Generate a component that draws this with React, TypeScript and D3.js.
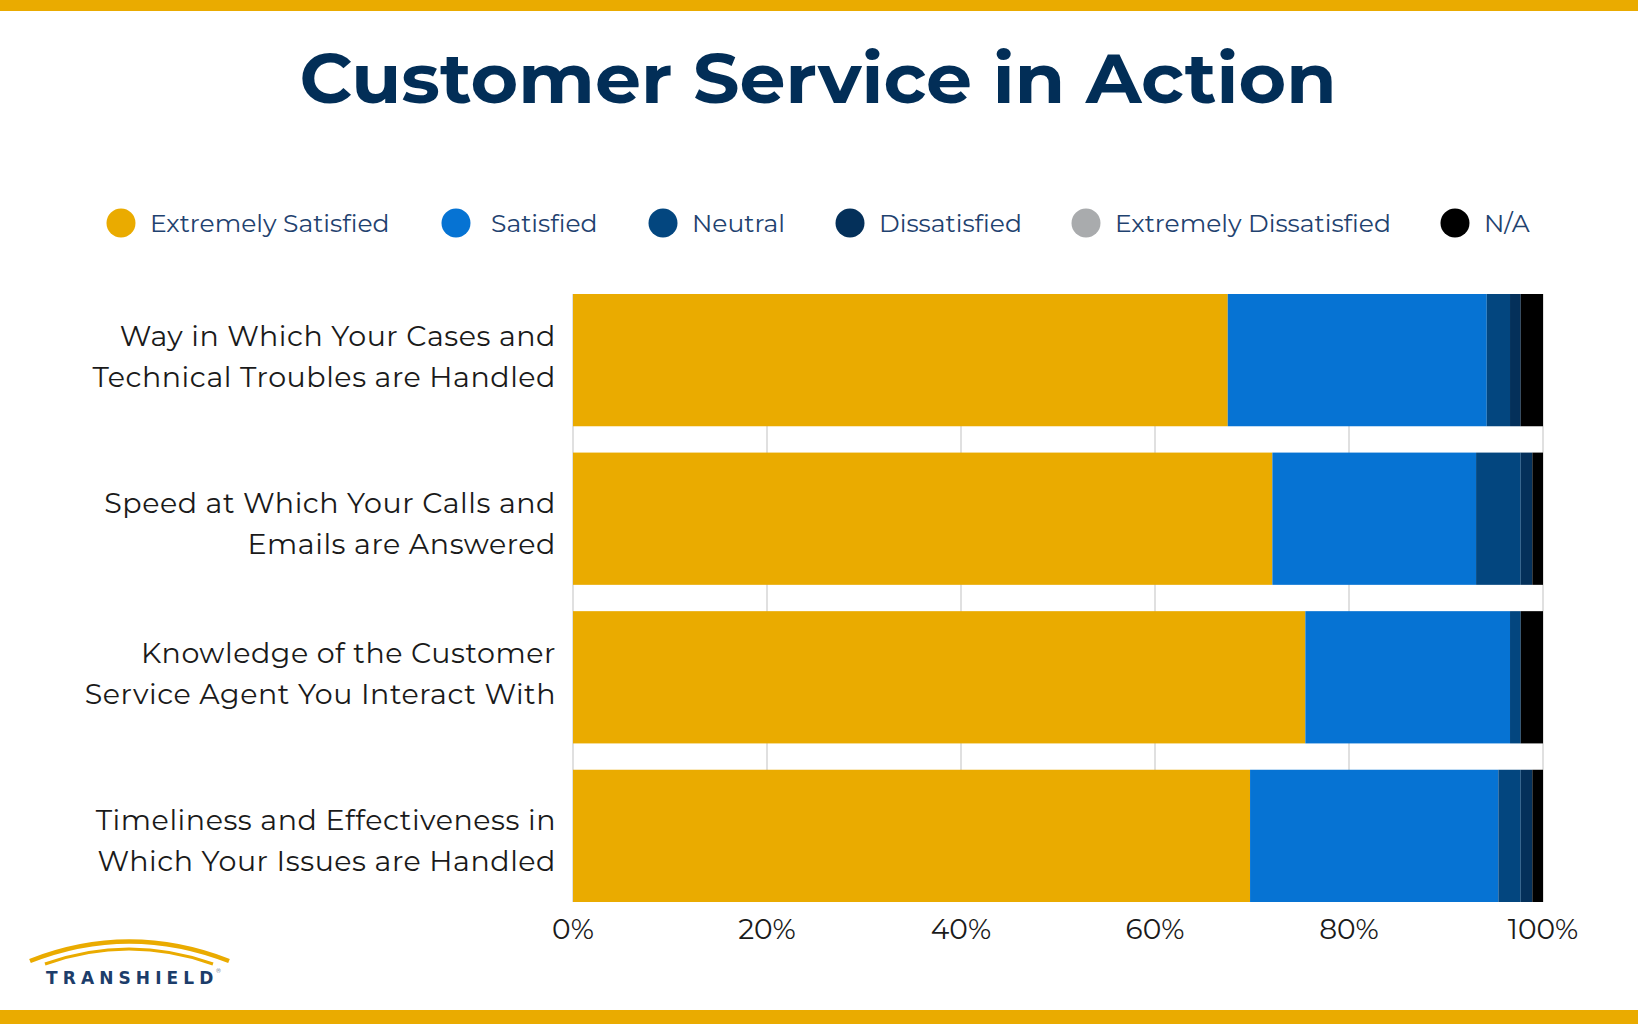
import { scaleLinear, scaleBand, stack } from "d3"

const categories = [
  ["Way in Which Your Cases and", "Technical Troubles are Handled"],
  ["Speed at Which Your Calls and", "Emails are Answered"],
  ["Knowledge of the Customer", "Service Agent You Interact With"],
  ["Timeliness and Effectiveness in", "Which Your Issues are Handled"],
]
const seriesNames = [
  "Extremely Satisfied",
  "Satisfied",
  "Neutral",
  "Dissatisfied",
  "Extremely Dissatisfied",
  "N/A",
]
const extremelySatisfied = [67.5, 72.1, 75.5, 69.8]
const satisfied = [26.7, 21.0, 21.1, 25.6]
const neutral = [2.4, 4.6, 1.1, 2.3]
const dissatisfied = [1.1, 1.2, 0, 1.2]
const extremelyDissatisfied = [0, 0, 0, 0]
const notApplicable = [2.3, 1.1, 2.3, 1.1]
const ticks = [0, 20, 40, 60, 80, 100]

const colors = ["#eaab00", "#0673d3", "#03467f", "#04305a", "#a9abad", "#000000"]
const legendX = [121, 456, 663, 850, 1086, 1455]
const legendTextX = [150, 491, 692, 879, 1115, 1484]
// small per-row vertical nudge of the label block, as in the original
const labelShift = [0, 8, 0, 8]

export default function App() {
  const W = 1638
  const H = 1024
  const gold = "#eaab00"
  const font = "Montserrat, 'Open Sans', sans-serif"

  const rows = categories.map((c, i) => ({
    key: i,
    "Extremely Satisfied": extremelySatisfied[i],
    Satisfied: satisfied[i],
    Neutral: neutral[i],
    Dissatisfied: dissatisfied[i],
    "Extremely Dissatisfied": extremelyDissatisfied[i],
    "N/A": notApplicable[i],
  }))
  const layers = stack<any>().keys(seriesNames)(rows)

  const x = scaleLinear().domain([0, 100]).range([573, 1543])
  const y = scaleBand<number>()
    .domain(categories.map((_, i) => i))
    .range([294, 902])
    .paddingInner(0.166)
    .paddingOuter(0)

  return (
    <svg
      width={W}
      height={H}
      style={{ position: "absolute", left: 0, top: 0, background: "#fff" }}
      fontFamily={font}
    >
      <rect x={0} y={0} width={W} height={11} fill={gold} />
      <rect x={0} y={1010} width={W} height={14} fill={gold} />

      <text
        x={818}
        y={103}
        textAnchor="middle"
        fontSize={70}
        fontWeight={700}
        fill="#022e57"
        textLength={1037}
        lengthAdjust="spacingAndGlyphs"
      >
        Customer Service in Action
      </text>

      {/* legend */}
      {seriesNames.map((s, i) => (
        <g key={s}>
          <circle cx={legendX[i]} cy={223} r={14.5} fill={colors[i]} />
          <text
            x={legendTextX[i]}
            y={223}
            dy="0.35em"
            fontSize={25}
            fill="#1f426f"
          >
            {s}
          </text>
        </g>
      ))}

      {/* grid */}
      {ticks.map((t) => (
        <line
          key={t}
          x1={x(t)}
          x2={x(t)}
          y1={294}
          y2={902}
          stroke="#d6d6d6"
          strokeWidth={1.5}
        />
      ))}

      {/* bars */}
      {layers.map((layer, li) => (
        <g key={layer.key} fill={colors[li]}>
          {layer.map((d, i) =>
            d[1] - d[0] > 0 ? (
              <rect
                key={i}
                x={x(d[0])}
                y={y(i)}
                width={x(d[1]) - x(d[0])}
                height={y.bandwidth()}
              />
            ) : null
          )}
        </g>
      ))}

      {/* category labels */}
      {categories.map((lines, i) => (
        <text
          key={i}
          textAnchor="end"
          fontSize={28.5}
          letterSpacing={0.55}
          fill="#1a1a1a"
        >
          {lines.map((l, j) => (
            <tspan
              key={j}
              x={556}
              y={(y(i) as number) + y.bandwidth() / 2 - 24 + labelShift[i] + j * 41}
              dy="0.35em"
            >
              {l}
            </tspan>
          ))}
        </text>
      ))}

      {/* x axis labels */}
      {ticks.map((t) => (
        <text
          key={t}
          x={x(t)}
          y={929}
          dy="0.35em"
          textAnchor="middle"
          fontSize={28}
          fill="#1a1a1a"
        >
          {t}%
        </text>
      ))}

      {/* logo */}
      <g>
        <path d="M30,961 Q129,922 229,961" fill="none" stroke={gold} strokeWidth={4.5} />
        <path d="M45,964 Q129,934 213,964" fill="none" stroke={gold} strokeWidth={3} />
        <text
          x={46}
          y={984}
          fontSize={17}
          fontWeight={700}
          fill="#1c3d6a"
          letterSpacing={5.1}
          fontFamily="'DejaVu Sans', sans-serif"
        >
          TRANSHIELD
        </text>
        <text x={216} y={973} fontSize={6} fill="#1c3d6a">®</text>
      </g>
    </svg>
  )
}
